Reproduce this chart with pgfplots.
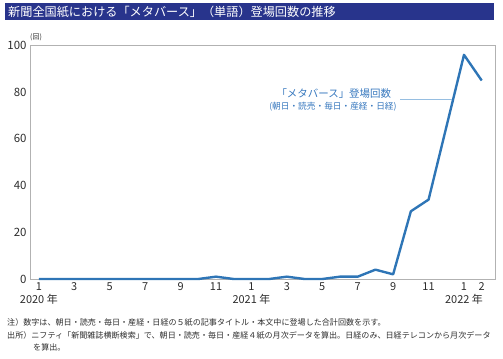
\documentclass[border=0pt]{standalone}
\usepackage{pgfplots}
\pgfplotsset{compat=1.18}
\usepackage{fontspec}
\setmainfont{Noto Sans CJK JP}
\definecolor{navy}{RGB}{40,52,140}
\definecolor{lineblue}{RGB}{46,117,182}
\definecolor{txtblue}{RGB}{55,120,190}
\definecolor{leaderblue}{RGB}{150,190,225}
\definecolor{txtgray}{RGB}{45,45,45}
\begin{document}
\begin{tikzpicture}
\path[use as bounding box] (0,0) rectangle (503bp,-359bp);
\fill[navy] (5bp,-3bp) rectangle (494bp,-20bp);
\node[anchor=west, text=white, font=\fontsize{12.2}{13}\selectfont, inner sep=0pt] at (8bp,-11.5bp) {新聞全国紙における「メタバース」（単語）登場回数の推移};
\node[anchor=west, text=txtgray, font=\fontsize{7}{8}\selectfont, inner sep=0pt] at (30bp,-37bp) {(回)};
\begin{axis}[
  at={(30bp,-279bp)}, anchor=south west,
  scale only axis, width=465bp, height=233.5bp,
  xmin=-0.5, xmax=25.75, ymin=0, ymax=100,
  axis line style={draw=gray!60, line width=0.7pt},
  major tick length=0pt,
  xtick={0,2,4,6,8,10,12,14,16,18,20,22,24,25},
  xticklabels={{1\\2020 年},3,5,7,9,11,{1\\2021 年},3,5,7,9,11,{1\\2022 年},2},
  xticklabel style={align=center, font=\fontsize{11}{12.8}\selectfont, text=txtgray},
  ytick={0,20,40,60,80,100},
  yticklabel style={font=\fontsize{11.5}{12}\selectfont, text=txtgray},
  /pgf/number format/assume math mode=true,
  clip=false,
]
\addplot[lineblue, line width=2.4pt, line join=round] coordinates {
(0,0) (1,0) (2,0) (3,0) (4,0) (5,0) (6,0) (7,0) (8,0) (9,0)
(10,1) (11,0) (12,0) (13,0) (14,1) (15,0) (16,0) (17,1) (18,1)
(19,4) (20,2) (21,29) (22,34) (23,65) (24,96) (25,85)
};
\draw[leaderblue, line width=0.7pt] (axis cs:20.4,77) -- (axis cs:23.3,77);
\node[text=txtblue, font=\fontsize{10.5}{11}\selectfont, inner sep=0pt] at (axis cs:16.65,79.5) {「メタバース」登場回数};
\node[text=txtblue, font=\fontsize{8.7}{9}\selectfont, inner sep=0pt] at (axis cs:16.6,74) {(朝日・読売・毎日・産経・日経)};
\end{axis}
\begin{scope}[every node/.style={anchor=west, inner sep=0pt, text=txtgray, font=\fontsize{8.1}{9}\selectfont}]
\node at (7bp,-322bp) {注）数字は、朝日・読売・毎日・産経・日経の５紙の記事タイトル・本文中に登場した合計回数を示す。};
\node at (7bp,-335bp) {出所）ニフティ「新聞雑誌横断検索」で、朝日・読売・毎日・産経４紙の月次データを算出。日経のみ、日経テレコンから月次データ};
\node at (33bp,-347bp) {を算出。};
\end{scope}
\end{tikzpicture}
\end{document}
